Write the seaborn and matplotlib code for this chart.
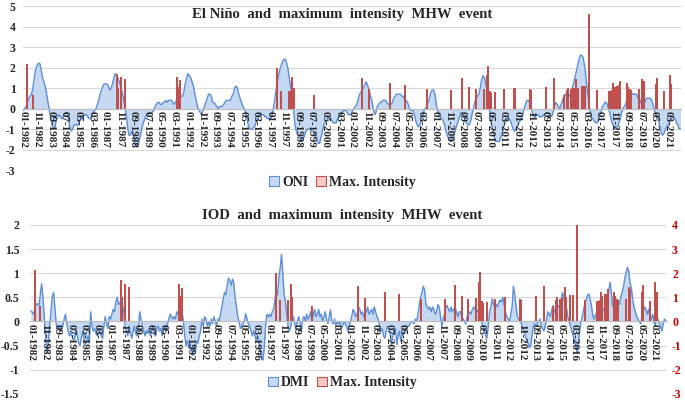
import numpy as np
import pandas as pd
import matplotlib
matplotlib.use("Agg")
import matplotlib.pyplot as plt
from matplotlib.patches import Patch
import seaborn as sns

# monthly series, Jan 1982 .. Dec 2021 (one row per year)
oni = [
    -0.1, 0.0, 0.1, 0.3, 0.5, 0.6, 0.7, 1.0, 1.5, 1.9, 2.1, 2.2,      # 1982
    2.2, 1.9, 1.5, 1.3, 1.1, 0.7, 0.3, -0.1, -0.5, -0.8, -1.0, -0.9,  # 1983
    -0.6, -0.4, -0.3, -0.4, -0.5, -0.4, -0.3, -0.2, -0.2, -0.6, -0.9, -1.1,
    -1.0, -0.8, -0.8, -0.8, -0.8, -0.6, -0.5, -0.5, -0.4, -0.3, -0.3, -0.4,
    -0.5, -0.5, -0.3, -0.2, -0.1, 0.0, 0.2, 0.4, 0.7, 0.9, 1.1, 1.2,
    1.2, 1.2, 1.1, 0.9, 1.0, 1.2, 1.5, 1.7, 1.6, 1.5, 1.3, 1.1,
    0.8, 0.5, 0.1, -0.3, -0.9, -1.3, -1.3, -1.1, -1.2, -1.5, -1.8, -1.8,
    -1.7, -1.4, -1.1, -0.8, -0.6, -0.4, -0.3, -0.3, -0.2, -0.2, -0.2, -0.1,
    0.1, 0.2, 0.3, 0.3, 0.2, 0.2, 0.3, 0.3, 0.4, 0.3, 0.4, 0.4,       # 1990
    0.4, 0.3, 0.2, 0.3, 0.5, 0.6, 0.7, 0.6, 0.6, 0.8, 1.2, 1.5,
    1.7, 1.6, 1.5, 1.3, 1.1, 0.7, 0.4, 0.1, -0.1, -0.2, -0.3, -0.1,
    0.1, 0.3, 0.5, 0.7, 0.7, 0.6, 0.3, 0.3, 0.2, 0.1, 0.0, 0.1,
    0.1, 0.1, 0.2, 0.3, 0.4, 0.4, 0.4, 0.4, 0.6, 0.7, 1.0, 1.1,
    1.0, 0.7, 0.5, 0.3, 0.1, 0.0, -0.2, -0.5, -0.8, -1.0, -1.0, -1.0,
    -0.9, -0.8, -0.6, -0.4, -0.3, -0.3, -0.3, -0.3, -0.4, -0.4, -0.5, -0.5,
    -0.5, -0.4, -0.1, 0.3, 0.8, 1.2, 1.6, 1.9, 2.1, 2.3, 2.4, 2.4,
    2.2, 1.9, 1.4, 1.0, 0.5, -0.1, -0.8, -1.1, -1.3, -1.4, -1.5, -1.6,
    -1.5, -1.3, -1.1, -1.0, -1.0, -1.0, -1.1, -1.1, -1.2, -1.3, -1.5, -1.7,
    -1.7, -1.4, -1.1, -0.8, -0.7, -0.6, -0.6, -0.5, -0.5, -0.6, -0.7, -0.7,  # 2000
    -0.7, -0.5, -0.4, -0.3, -0.3, -0.1, -0.1, -0.1, -0.2, -0.3, -0.3, -0.3,
    -0.1, 0.0, 0.1, 0.2, 0.4, 0.7, 0.8, 0.9, 1.0, 1.2, 1.3, 1.1,
    0.9, 0.6, 0.4, 0.0, -0.3, -0.2, 0.1, 0.2, 0.3, 0.3, 0.4, 0.4,
    0.4, 0.3, 0.2, 0.2, 0.2, 0.3, 0.5, 0.6, 0.7, 0.7, 0.7, 0.7,
    0.6, 0.6, 0.4, 0.4, 0.3, 0.1, -0.1, -0.1, -0.1, -0.3, -0.6, -0.8,
    -0.9, -0.8, -0.6, -0.4, -0.1, 0.0, 0.1, 0.3, 0.5, 0.8, 0.9, 0.9,
    0.7, 0.2, -0.1, -0.3, -0.4, -0.5, -0.6, -0.8, -1.1, -1.3, -1.5, -1.6,
    -1.6, -1.5, -1.3, -1.0, -0.8, -0.6, -0.4, -0.2, -0.2, -0.4, -0.6, -0.7,
    -0.8, -0.8, -0.6, -0.3, 0.0, 0.3, 0.5, 0.6, 0.7, 1.0, 1.4, 1.6,
    1.5, 1.2, 0.8, 0.4, -0.2, -0.7, -1.0, -1.3, -1.6, -1.6, -1.6, -1.6,  # 2010
    -1.4, -1.2, -0.9, -0.7, -0.6, -0.4, -0.5, -0.6, -0.8, -1.0, -1.1, -1.0,
    -0.9, -0.7, -0.6, -0.5, -0.3, 0.0, 0.2, 0.4, 0.4, 0.3, 0.1, -0.2,
    -0.4, -0.4, -0.3, -0.3, -0.4, -0.4, -0.4, -0.3, -0.3, -0.2, -0.2, -0.3,
    -0.4, -0.4, -0.2, 0.1, 0.3, 0.2, 0.1, 0.0, 0.2, 0.4, 0.6, 0.7,
    0.6, 0.6, 0.6, 0.8, 1.0, 1.2, 1.5, 1.8, 2.1, 2.4, 2.6, 2.6,
    2.5, 2.1, 1.6, 0.9, 0.4, -0.1, -0.4, -0.5, -0.6, -0.7, -0.7, -0.6,
    -0.3, -0.2, 0.1, 0.2, 0.3, 0.3, 0.1, -0.1, -0.4, -0.7, -0.8, -1.0,
    -0.9, -0.9, -0.7, -0.5, -0.2, 0.0, 0.1, 0.2, 0.5, 0.8, 0.9, 0.8,
    0.7, 0.7, 0.7, 0.7, 0.5, 0.5, 0.3, 0.1, 0.2, 0.3, 0.5, 0.5,
    0.5, 0.5, 0.4, 0.2, -0.1, -0.3, -0.4, -0.6, -0.9, -1.2, -1.3, -1.2,  # 2020
    -1.0, -0.9, -0.8, -0.7, -0.5, -0.4, -0.4, -0.5, -0.7, -0.8, -1.0, -1.0,
]

dmi = [
    0.22, 0.18, 0.15, 0.3, 0.35, 0.37, 0.33, 0.55, 0.78, 0.5, 0.1, -0.3,         # 1982
    -0.65, -0.45, -0.1, 0.2, 0.5, 0.6, 0.3, -0.05, -0.15, -0.1, -0.2, -0.1,
    -0.1, 0.05, 0.15, -0.05, -0.2, -0.3, -0.25, -0.3, -0.4, -0.35, -0.2, -0.3,
    -0.45, -0.5, -0.35, -0.2, -0.35, -0.5, -0.4, -0.3, -0.45, 0.2, -0.1, -0.2,
    -0.15, -0.25, -0.3, -0.15, -0.2, -0.3, -0.35, -0.1, 0.1, -0.05, -0.15, 0.1,
    0.05, 0.15, 0.25, 0.2, 0.4, 0.5, 0.35, 0.38, 0.45, 0.35, 0.2, -0.1,
    -0.2, -0.3, -0.1, -0.25, -0.35, -0.2, -0.1, -0.25, -0.3, -0.2, 0.2, 0.05,
    -0.1, -0.2, -0.3, -0.2, -0.25, -0.15, -0.3, -0.2, -0.1, -0.25, -0.3, -0.15,
    -0.1, -0.2, -0.15, -0.3, -0.2, -0.1, -0.2, -0.05, 0.05, 0.15, 0.1, 0.05,    # 1990
    0.1, 0.05, 0.2, 0.15, 0.3, 0.35, 0.2, 0.0, -0.3, -0.5, -0.4, -0.55,
    -0.45, -0.6, -0.7, -0.5, -0.65, -0.4, -0.45, -0.3, -0.2, 0.05, -0.1, 0.1,
    0.05, -0.1, 0.0, -0.1, 0.05, -0.05, 0.1, 0.0, -0.1, 0.05, 0.0, 0.15,
    0.3, 0.45, 0.6, 0.55, 0.75, 0.9, 0.85, 0.75, 0.88, 0.8, 0.5, 0.3,
    0.1, 0.0, -0.15, -0.1, -0.05, 0.0, 0.16, 0.05, -0.05, -0.1, -0.2, -0.3,
    -0.2, -0.3, -0.4, -0.3, -0.45, -0.6, -0.75, -0.8, -0.55, -0.1, 0.15, 0.1,
    0.15, 0.1, 0.2, 0.25, 0.45, 0.65, 0.55, 0.9, 1.1, 1.39, 1.0, 0.55,
    0.4, 0.15, -0.1, -0.2, -0.1, 0.05, 0.1, -0.05, -0.15, 0.0, 0.1, -0.05,
    -0.2, 0.05, 0.1, 0.0, 0.15, 0.05, 0.1, 0.2, 0.0, 0.15, 0.25, 0.1,
    0.15, 0.25, 0.1, 0.15, 0.0, 0.1, 0.2, 0.05, -0.05, 0.1, 0.24, 0.0,         # 2000
    -0.05, 0.05, -0.1, 0.0, -0.05, 0.0, -0.15, -0.1, 0.0, -0.05, -0.1, -0.2,
    -0.1, 0.0, 0.1, 0.25, 0.2, 0.1, 0.15, 0.3, 0.27, 0.15, 0.2, 0.1,
    0.15, 0.2, 0.3, 0.15, 0.2, 0.25, 0.15, 0.3, 0.2, 0.1, 0.05, -0.1,
    -0.2, -0.15, -0.3, -0.35, -0.2, -0.1, -0.15, -0.25, -0.48, -0.3, -0.2, -0.15,
    -0.48, -0.3, -0.2, -0.4, -0.3, -0.2, -0.25, -0.15, -0.1, -0.1, -0.05, 0.0,
    0.0, -0.05, 0.05, 0.0, 0.15, 0.35, 0.5, 0.6, 0.73, 0.65, 0.35, 0.3,
    0.25, 0.3, 0.2, 0.3, 0.25, 0.15, 0.2, 0.35, 0.3, 0.1, -0.1, 0.05,
    0.15, 0.3, 0.33, 0.25, 0.2, 0.3, 0.2, 0.25, 0.3, 0.2, 0.1, 0.2,
    0.2, 0.1, 0.06, 0.0, -0.05, 0.1, 0.15, 0.2, 0.15, 0.25, 0.3, 0.25,
    0.26, 0.2, 0.25, 0.1, 0.0, -0.1, -0.2, -0.3, -0.35, -0.1, 0.2, 0.3,        # 2010
    0.47, 0.35, 0.3, 0.35, 0.3, 0.4, 0.45, 0.4, 0.5, 0.35, 0.2, 0.1,
    0.05, 0.0, 0.15, 0.3, 0.73, 0.55, 0.3, 0.1, 0.05, 0.0, -0.05, -0.15,
    -0.2, -0.3, -0.4, -0.45, -0.55, -0.5, -0.3, -0.1, -0.05, -0.1, -0.05, 0.0,
    0.05, -0.1, -0.15, -0.2, -0.1, 0.05, 0.2, 0.15, 0.1, 0.25, 0.33, 0.2,
    0.15, 0.25, 0.33, 0.3, 0.45, 0.6, 0.5, 0.35, 0.3, 0.1, 0.0, -0.1,
    -0.2, -0.3, -0.4, -0.5, -0.65, -0.45, -0.2, 0.0, 0.1, 0.25, 0.4, 0.45,
    0.55, 0.57, 0.45, 0.3, 0.1, 0.05, 0.15, 0.1, 0.2, 0.25, 0.3, 0.2,
    0.25, 0.3, 0.4, 0.5, 0.65, 0.81, 0.55, 0.3, 0.35, 0.25, 0.3, 0.4,
    0.35, 0.5, 0.6, 0.7, 0.9, 1.0, 1.12, 1.05, 0.8, 0.7, 0.45, 0.3,
    0.2, 0.1, 0.05, 0.0, -0.05, 0.1, 0.2, 0.3, 0.25, 0.15, 0.25, 0.1,          # 2020
    0.05, 0.15, 0.0, -0.1, 0.1, 0.05, -0.05, -0.1, -0.2, -0.05, 0.05, 0.0,
]

# MHW events: month of event and its maximum intensity
mhw_dates = [
    "1982-04", "1982-08", "1987-09", "1987-10", "1987-12", "1988-03",
    "1991-05", "1991-06", "1991-07", "1997-06", "1997-09", "1998-03",
    "1998-05", "1998-06", "1999-09", "2002-08", "2003-01", "2004-04",
    "2005-03", "2006-07", "2008-01", "2008-09", "2009-02", "2009-07",
    "2010-01", "2010-03", "2010-04", "2010-05", "2010-06", "2010-09",
    "2011-03", "2011-11", "2012-10", "2012-11", "2013-10", "2014-04",
    "2014-11", "2015-01", "2015-02", "2015-04", "2015-06", "2015-08",
    "2015-09", "2015-12", "2016-02", "2016-05", "2016-11", "2017-08",
    "2017-09", "2017-10", "2017-11", "2017-12", "2018-02", "2018-03",
    "2018-04", "2018-09", "2018-10", "2018-11", "2018-12", "2019-06",
    "2019-08", "2019-09", "2020-06", "2020-07", "2020-12", "2021-04",
    "2021-05",
]
mhw_intensity = [
    2.15, 0.65, 1.7, 1.02, 1.55, 1.42,
    1.55, 1.05, 1.4, 2.0, 0.87, 0.87,
    1.55, 1.0, 0.65, 1.48, 0.96, 1.23,
    1.13, 0.93, 0.92, 1.5, 1.05, 0.93,
    0.96, 1.65, 2.05, 0.86, 0.75, 0.82,
    0.95, 1.0, 0.95, 0.9, 1.05, 1.47,
    0.65, 0.9, 1.0, 0.95, 1.0, 1.42,
    1.0, 1.1, 1.1, 4.6, 0.9, 0.84,
    0.84, 0.9, 1.23, 1.07, 1.12, 1.15,
    1.36, 1.23, 1.07, 0.95, 0.9, 0.95,
    1.44, 1.36, 1.2, 1.49, 0.84, 1.65,
    1.22,
]

sns.set_theme(style="white")
plt.rcParams["font.family"] = ["Liberation Serif", "DejaVu Serif"]
plt.rcParams["font.weight"] = "bold"

months = pd.date_range("1982-01-01", "2021-12-01", freq="MS")
x = np.arange(len(months))
tick_pos = x[::10]
tick_labels = [d.strftime("%m-%Y") for d in months[::10]]
ev = [(pd.Timestamp(d).year - 1982) * 12 + pd.Timestamp(d).month - 1 for d in mhw_dates]

fill_c = "#c6d9f3"
line_c = "#5d8ed6"
bar_c = "#c0504d"
grid_c = "#d9d9d9"

fig = plt.figure(figsize=(6.85, 4.01), dpi=100)
ax_top = fig.add_axes([0.033, 0.576, 0.9615, 0.409])
ax_bot = fig.add_axes([0.0443, 0.018, 0.9287, 0.421])


def style_panel(ax, yticks, pad):
    sns.despine(ax=ax, left=True, right=True, top=True)
    ax.spines["bottom"].set_position(("data", 0))
    ax.spines["bottom"].set_color("#bfbfbf")
    ax.spines["bottom"].set_linewidth(0.9)
    ax.set_xlim(-0.5, len(x) - 0.5)
    ax.set_xticks(tick_pos)
    ax.set_xticklabels(tick_labels, rotation=-90, fontsize=8, fontweight="bold")
    ax.set_yticks(yticks)
    ax.set_yticklabels([f"{t:g}" for t in yticks], fontsize=8.5, fontweight="bold")
    ax.tick_params(axis="x", length=0, pad=1.5)
    ax.tick_params(axis="y", length=0, pad=pad)
    for t in yticks:
        ax.axhline(t, color=grid_c, lw=0.8, zorder=0)
    ax.set_axisbelow(False)
    ax.set_xlabel("")
    ax.set_ylabel("")


# El Nino panel
ax_top.fill_between(x, oni, 0, color=fill_c, lw=0, zorder=1)
sns.lineplot(x=x, y=oni, ax=ax_top, color=line_c, lw=1, zorder=2)
sns.barplot(x=ev, y=mhw_intensity, ax=ax_top, native_scale=True, color=bar_c,
            saturation=1, width=1.5, errorbar=None, linewidth=0, zorder=3)
ax_top.set_ylim(-3, 5)
style_panel(ax_top, list(range(-3, 6)), 5)

# IOD panel
ax_bot.fill_between(x, dmi, 0, color=fill_c, lw=0, zorder=1)
sns.lineplot(x=x, y=dmi, ax=ax_bot, color=line_c, lw=1, zorder=2)
ax_bot.set_ylim(-1.5, 2)
style_panel(ax_bot, [-1.5, -1, -0.5, 0, 0.5, 1, 1.5, 2], 8)

ax_bar = ax_bot.twinx()
sns.barplot(x=ev, y=mhw_intensity, ax=ax_bar, native_scale=True, color=bar_c,
            saturation=1, width=1.5, errorbar=None, linewidth=0)
ax_bar.set_ylim(-3, 4)
ax_bar.set_xlim(-0.5, len(x) - 0.5)
ax_bar.set_yticks(range(-3, 5))
ax_bar.set_yticklabels([str(t) for t in range(-3, 5)], color="#c00000",
                       fontsize=8.5, fontweight="bold")
ax_bar.tick_params(axis="y", length=0, pad=4)
ax_bar.set_ylabel("")
for s in ax_bar.spines.values():
    s.set_visible(False)

fig.text(0.5, 0.963, "El Niño  and  maximum  intensity  MHW  event",
         ha="center", va="center", fontsize=10.6, fontweight="bold")
fig.text(0.5, 0.462, "IOD  and  maximum  intensity  MHW  event",
         ha="center", va="center", fontsize=10.6, fontweight="bold")


def legend_handles():
    return [Patch(facecolor=fill_c, edgecolor=line_c, lw=0.8),
            Patch(facecolor="#f3c9c8", edgecolor=bar_c, lw=0.8)]


for name, ypos in [("ONI", 0.546), ("DMI", 0.045)]:
    fig.legend(legend_handles(), [name, "Max. Intensity"], loc="center",
               bbox_to_anchor=(0.5, ypos), ncol=2, frameon=False,
               prop={"size": 10, "weight": "bold"}, handlelength=0.7,
               handleheight=0.7, handletextpad=0.2, columnspacing=0.6)

fig.savefig("out.png", dpi=100)
